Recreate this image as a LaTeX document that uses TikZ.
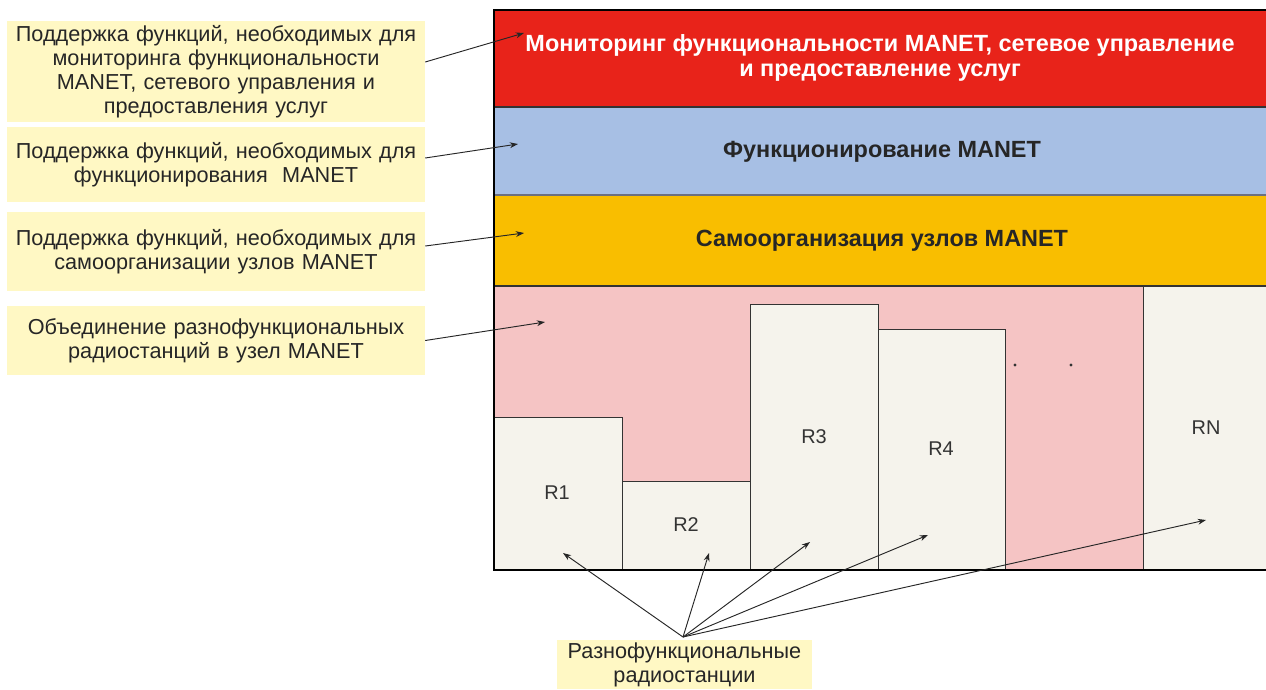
\documentclass[tikz,border=0pt]{standalone}
\usepackage{fontspec}
\setmainfont{Liberation Sans}
\usetikzlibrary{arrows.meta}
\definecolor{layerred}{HTML}{E8231A}
\definecolor{layerblue}{HTML}{A7BFE4}
\definecolor{layeryellow}{HTML}{F9BE00}
\definecolor{nodepink}{HTML}{F5C4C4}
\definecolor{radiofill}{HTML}{F5F3EC}
\definecolor{notefill}{HTML}{FFF8C4}
\definecolor{boxline}{HTML}{333333}
\definecolor{sepgray}{HTML}{6C7080}
\begin{document}
\begin{tikzpicture}[x=0.03cm,y=-0.03cm,
  note/.style={fill=notefill, text width=#1, align=center, inner sep=0pt,
    font=\fontsize{18.5}{20.5}\selectfont, text=black!85},
  note/.default=12.54cm,
  bandtext/.style={align=center, font=\bfseries\fontsize{20}{21.5}\selectfont},
  radio/.style={draw=boxline, fill=radiofill, line width=0.6pt},
  rlabel/.style={font=\fontsize{17}{20}\selectfont, text=boxline},
  pointer/.style={-{Stealth[length=7pt,width=5pt]}, line width=0.8pt, black!85}]
\useasboundingbox (0,0) rectangle (1266,689);
% layers of the MANET node
\fill[layerred] (494,10) rectangle (1266,107);
\fill[layerblue] (494,107) rectangle (1266,195);
\fill[layeryellow] (494,195) rectangle (1266,286);
\fill[nodepink] (494,286) rectangle (1143,570);
\draw[boxline, line width=1.2pt] (494,107) -- (1266,107);
\draw[sepgray, line width=2.4pt] (494,195) -- (1266,195);
\draw[boxline, line width=1pt] (494,286) -- (1266,286);
\node[bandtext, text=white] (monitor) at (880,58) {Мониторинг функциональности MANET, сетевое управление\\и предоставление услуг};
\node[bandtext, text=black!85] (operate) at (882,152) {Функционирование MANET};
\node[bandtext, text=black!85] (selforg) at (882,241) {Самоорганизация узлов MANET};
% radio stations
\draw[radio] (494,570) rectangle (622,417);
\draw[radio] (622,570) rectangle (750,481);
\draw[radio] (750,570) rectangle (878,304);
\draw[radio] (878,570) rectangle (1005,329);
\draw[radio] (1143,570) rectangle (1270,286);
\node[rlabel] (r1) at (557,493) {R1};
\node[rlabel] (r2) at (686,525) {R2};
\node[rlabel] (r3) at (814,437) {R3};
\node[rlabel] (r4) at (941,449) {R4};
\node[rlabel] (rn) at (1206,428) {RN};
\fill[boxline] (1015,365) circle (1.6) (1071,365) circle (1.6);
\draw[black, line width=1pt] (1266,10) -- (494,10) -- (494,570) -- (1266,570);
% notes on the left
\node[note, minimum height=3.03cm] (n1) at (216,71.5) {Поддержка функций, необходимых для\\мониторинга функциональности\\MANET, сетевого управления и\\предоставления услуг};
\node[note, minimum height=2.25cm] (n2) at (216,164.5) {Поддержка функций, необходимых для\\функционирования~~MANET};
\node[note, minimum height=2.37cm] (n3) at (216,251.5) {Поддержка функций, необходимых для\\самоорганизации узлов MANET};
\node[note, minimum height=2.07cm] (n4) at (216,340.5) {Объединение разнофункциональных\\радиостанций в узел MANET};
\node[note=7.65cm, minimum height=1.47cm] (radios) at (684.5,664.5) {Разнофункциональные\\радиостанции};
% arrow targets
\coordinate (t1) at (524,33);
\coordinate (t2) at (518,144);
\coordinate (t3) at (524,233);
\coordinate (t4) at (545,322);
\coordinate (hub) at (683,637);
\coordinate (a1) at (563,553);
\coordinate (a2) at (709,553);
\coordinate (a3) at (810,542);
\coordinate (a4) at (928,535);
\coordinate (an) at (1206,520);
\draw[pointer] ([yshift=9.5*0.03cm]n1.east) -- (t1);
\draw[pointer] ([yshift=6.5*0.03cm]n2.east) -- (t2);
\draw[pointer] ([yshift=5.5*0.03cm]n3.east) -- (t3);
\draw[pointer] (n4.east) -- (t4);
\foreach \tip in {a1,a2,a3,a4,an}
  \draw[pointer] (hub) -- (\tip);
\end{tikzpicture}
\end{document}
